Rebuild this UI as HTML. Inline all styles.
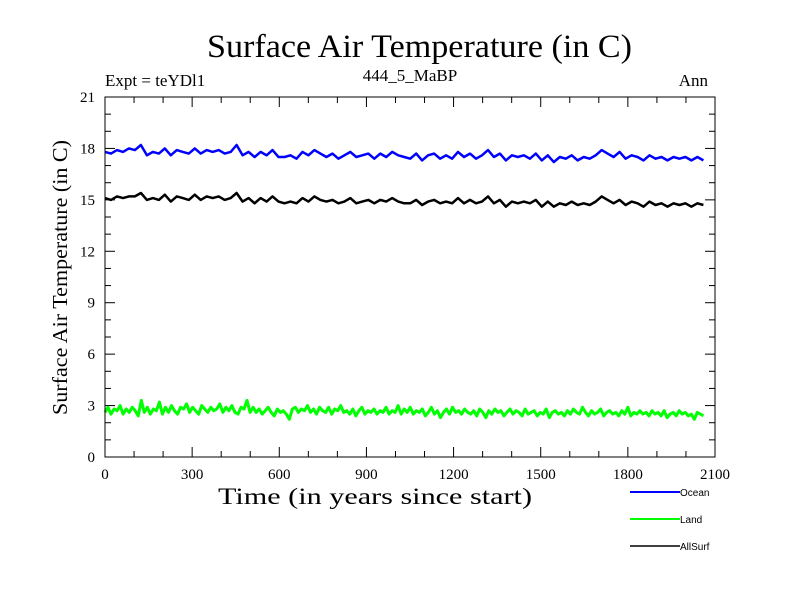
<!DOCTYPE html>
<html><head><meta charset="utf-8"><style>
body{margin:0;background:#fff;}
svg{display:block;}
text{font-family:"Liberation Serif",serif;fill:#000;}
</style></head><body>
<svg id="chart" width="800" height="600">
<text x="207" y="57" font-size="33" textLength="425" lengthAdjust="spacingAndGlyphs">Surface Air Temperature (in C)</text>
<text x="105" y="86" font-size="17">Expt = teYDl1</text>
<text x="410" y="81" font-size="17" text-anchor="middle">444_5_MaBP</text>
<text x="708" y="86" font-size="17" text-anchor="end">Ann</text>
<text x="218" y="504" font-size="23" textLength="314" lengthAdjust="spacingAndGlyphs">Time (in years since start)</text>
<text transform="translate(67,415) rotate(-90)" font-size="21" textLength="275" lengthAdjust="spacingAndGlyphs">Surface Air Temperature (in C)</text>
<g id="ticks"></g>
<g id="series"></g>
<rect x="105" y="97" width="610" height="360" fill="none" stroke="#000" stroke-width="1"/>
<g>
<line x1="630" y1="492" x2="680" y2="492" stroke="#0000ff" stroke-width="2"/>
<text x="680" y="496" font-size="10" style="font-family:'Liberation Sans',sans-serif">Ocean</text>
<line x1="630" y1="519" x2="680" y2="519" stroke="#00ff00" stroke-width="2"/>
<text x="680" y="523" font-size="10" style="font-family:'Liberation Sans',sans-serif">Land</text>
<line x1="630" y1="546" x2="680" y2="546" stroke="#000" stroke-width="1.5"/>
<text x="680" y="550" font-size="10" style="font-family:'Liberation Sans',sans-serif">AllSurf</text>
</g>
</svg>
<script>
const xTicks=[0,300,600,900,1200,1500,1800,2100];
const yTicks=[0,3,6,9,12,15,18,21];
const yearStart=0;
const yearEnd=2060;
const ocean=[17.8,17.7,17.9,17.8,18.0,17.9,18.2,17.6,17.8,17.7,18.0,17.6,17.9,17.8,17.7,18.0,17.7,17.9,17.8,17.9,17.7,17.8,18.2,17.6,17.8,17.5,17.8,17.6,17.9,17.5,17.5,17.6,17.4,17.8,17.6,17.9,17.7,17.5,17.7,17.4,17.6,17.8,17.5,17.6,17.7,17.4,17.7,17.5,17.8,17.6,17.5,17.4,17.7,17.3,17.6,17.7,17.4,17.6,17.4,17.8,17.5,17.7,17.4,17.6,17.9,17.5,17.7,17.3,17.6,17.5,17.6,17.4,17.7,17.3,17.6,17.2,17.5,17.4,17.6,17.3,17.5,17.4,17.6,17.9,17.7,17.5,17.8,17.4,17.6,17.5,17.3,17.6,17.4,17.5,17.3,17.5,17.4,17.5,17.3,17.5,17.3];
const allsurf=[15.1,15.0,15.2,15.1,15.2,15.2,15.4,15.0,15.1,15.0,15.3,14.9,15.2,15.1,15.0,15.3,15.0,15.2,15.1,15.2,15.0,15.1,15.4,14.9,15.1,14.8,15.1,14.9,15.2,14.9,14.8,14.9,14.8,15.1,14.9,15.2,15.0,14.9,15.0,14.8,14.9,15.1,14.8,14.9,15.0,14.8,15.0,14.9,15.1,14.9,14.8,14.8,15.0,14.7,14.9,15.0,14.8,14.9,14.8,15.1,14.8,15.0,14.8,14.9,15.2,14.8,15.0,14.6,14.9,14.8,14.9,14.8,15.0,14.6,14.9,14.6,14.8,14.7,14.9,14.7,14.8,14.7,14.9,15.2,15.0,14.8,15.0,14.7,14.9,14.8,14.6,14.9,14.7,14.8,14.6,14.8,14.7,14.8,14.6,14.8,14.7];
const land=[2.6,2.9,2.5,2.8,2.7,3.0,2.5,2.8,2.6,2.9,2.7,2.4,3.3,2.6,2.9,2.5,2.8,2.7,3.2,2.5,2.9,2.6,3.0,2.7,2.5,2.9,2.8,3.1,2.6,2.9,2.7,2.5,3.0,2.8,2.6,2.9,2.7,2.8,3.1,2.6,2.9,2.7,3.0,2.6,2.5,2.9,2.8,3.3,2.6,2.9,2.6,2.8,2.5,2.7,2.9,2.6,2.4,2.8,2.6,2.7,2.5,2.2,2.8,2.9,2.6,2.8,2.7,3.0,2.6,2.8,2.5,2.9,2.7,2.6,2.9,2.5,2.8,2.7,3.0,2.6,2.7,2.5,2.8,2.4,2.7,2.9,2.5,2.7,2.6,2.8,2.5,2.7,2.6,2.9,2.5,2.7,2.6,3.0,2.5,2.8,2.6,2.9,2.5,2.7,2.6,2.8,2.4,2.6,2.9,2.5,2.7,2.3,2.6,2.8,2.5,2.9,2.6,2.7,2.5,2.8,2.6,2.5,2.7,2.4,2.8,2.6,2.3,2.7,2.5,2.8,2.6,2.7,2.4,2.6,2.8,2.5,2.7,2.6,2.4,2.8,2.5,2.6,2.7,2.4,2.6,2.5,2.8,2.3,2.6,2.7,2.5,2.6,2.4,2.7,2.5,2.8,2.6,2.5,2.9,2.6,2.4,2.7,2.5,2.6,2.8,2.4,2.6,2.7,2.5,2.6,2.4,2.7,2.5,2.9,2.4,2.6,2.5,2.7,2.5,2.6,2.4,2.7,2.5,2.6,2.4,2.7,2.3,2.5,2.6,2.4,2.7,2.5,2.6,2.4,2.5,2.2,2.6,2.5,2.4];
const X0=105,X1=715,Y0=457,Y1=97;
function xs(v){return X0+(v-0)/2100*(X1-X0);}
function ys(v){return Y0-(v-0)/21*(Y0-Y1);}
const NS='http://www.w3.org/2000/svg';
const tg=document.getElementById('ticks');
function mk(tag,attrs,parent){const e=document.createElementNS(NS,tag);for(const k in attrs)e.setAttribute(k,attrs[k]);parent.appendChild(e);return e;}
for(let v=0;v<=2100;v+=100){
  const x=xs(v),len=(v%300===0)?10:6;
  const a=mk('line',{x1:x,y1:Y0,x2:x,y2:Y0-len,stroke:'#000'},tg);
  
  
  const b=mk('line',{x1:x,y1:Y1,x2:x,y2:Y1+len,stroke:'#000'},tg);
  
  
}
for(let v=0;v<=21;v+=1){
  const y=ys(v),len=(v%3===0)?10:6;
  const a=mk('line',{x1:X0,y1:y,x2:X0+len,y2:y,stroke:'#000'},tg);
  
  
  const b=mk('line',{x1:X1,y1:y,x2:X1-len,y2:y,stroke:'#000'},tg);
  
  
}
xTicks.forEach(v=>{
  const t=mk('text',{x:xs(v),y:Y0+22,'font-size':15,'text-anchor':'middle'},tg);
  t.textContent=v;
  
  
});
yTicks.forEach(v=>{
  const t=mk('text',{x:X0-10,y:ys(v)+5,'font-size':15,'text-anchor':'end'},tg);
  t.textContent=v;
  
  
});
const sg=document.getElementById('series');
function line(arr,color,w,name){
  const n=arr.length-1;
  const pts=arr.map((v,i)=>xs(yearStart+(yearEnd-yearStart)*i/n).toFixed(1)+','+ys(v).toFixed(1)).join(' ');
  const p=mk('polyline',{points:pts,fill:'none',stroke:color,'stroke-width':w,'stroke-linejoin':'round'},sg);
  
  
}
line(land,'#00ff00',3,'land-series');
line(ocean,'#0000ff',2.5,'ocean-series');
line(allsurf,'#000000',2.5,'allsurf-series');
</script>
</body></html>
